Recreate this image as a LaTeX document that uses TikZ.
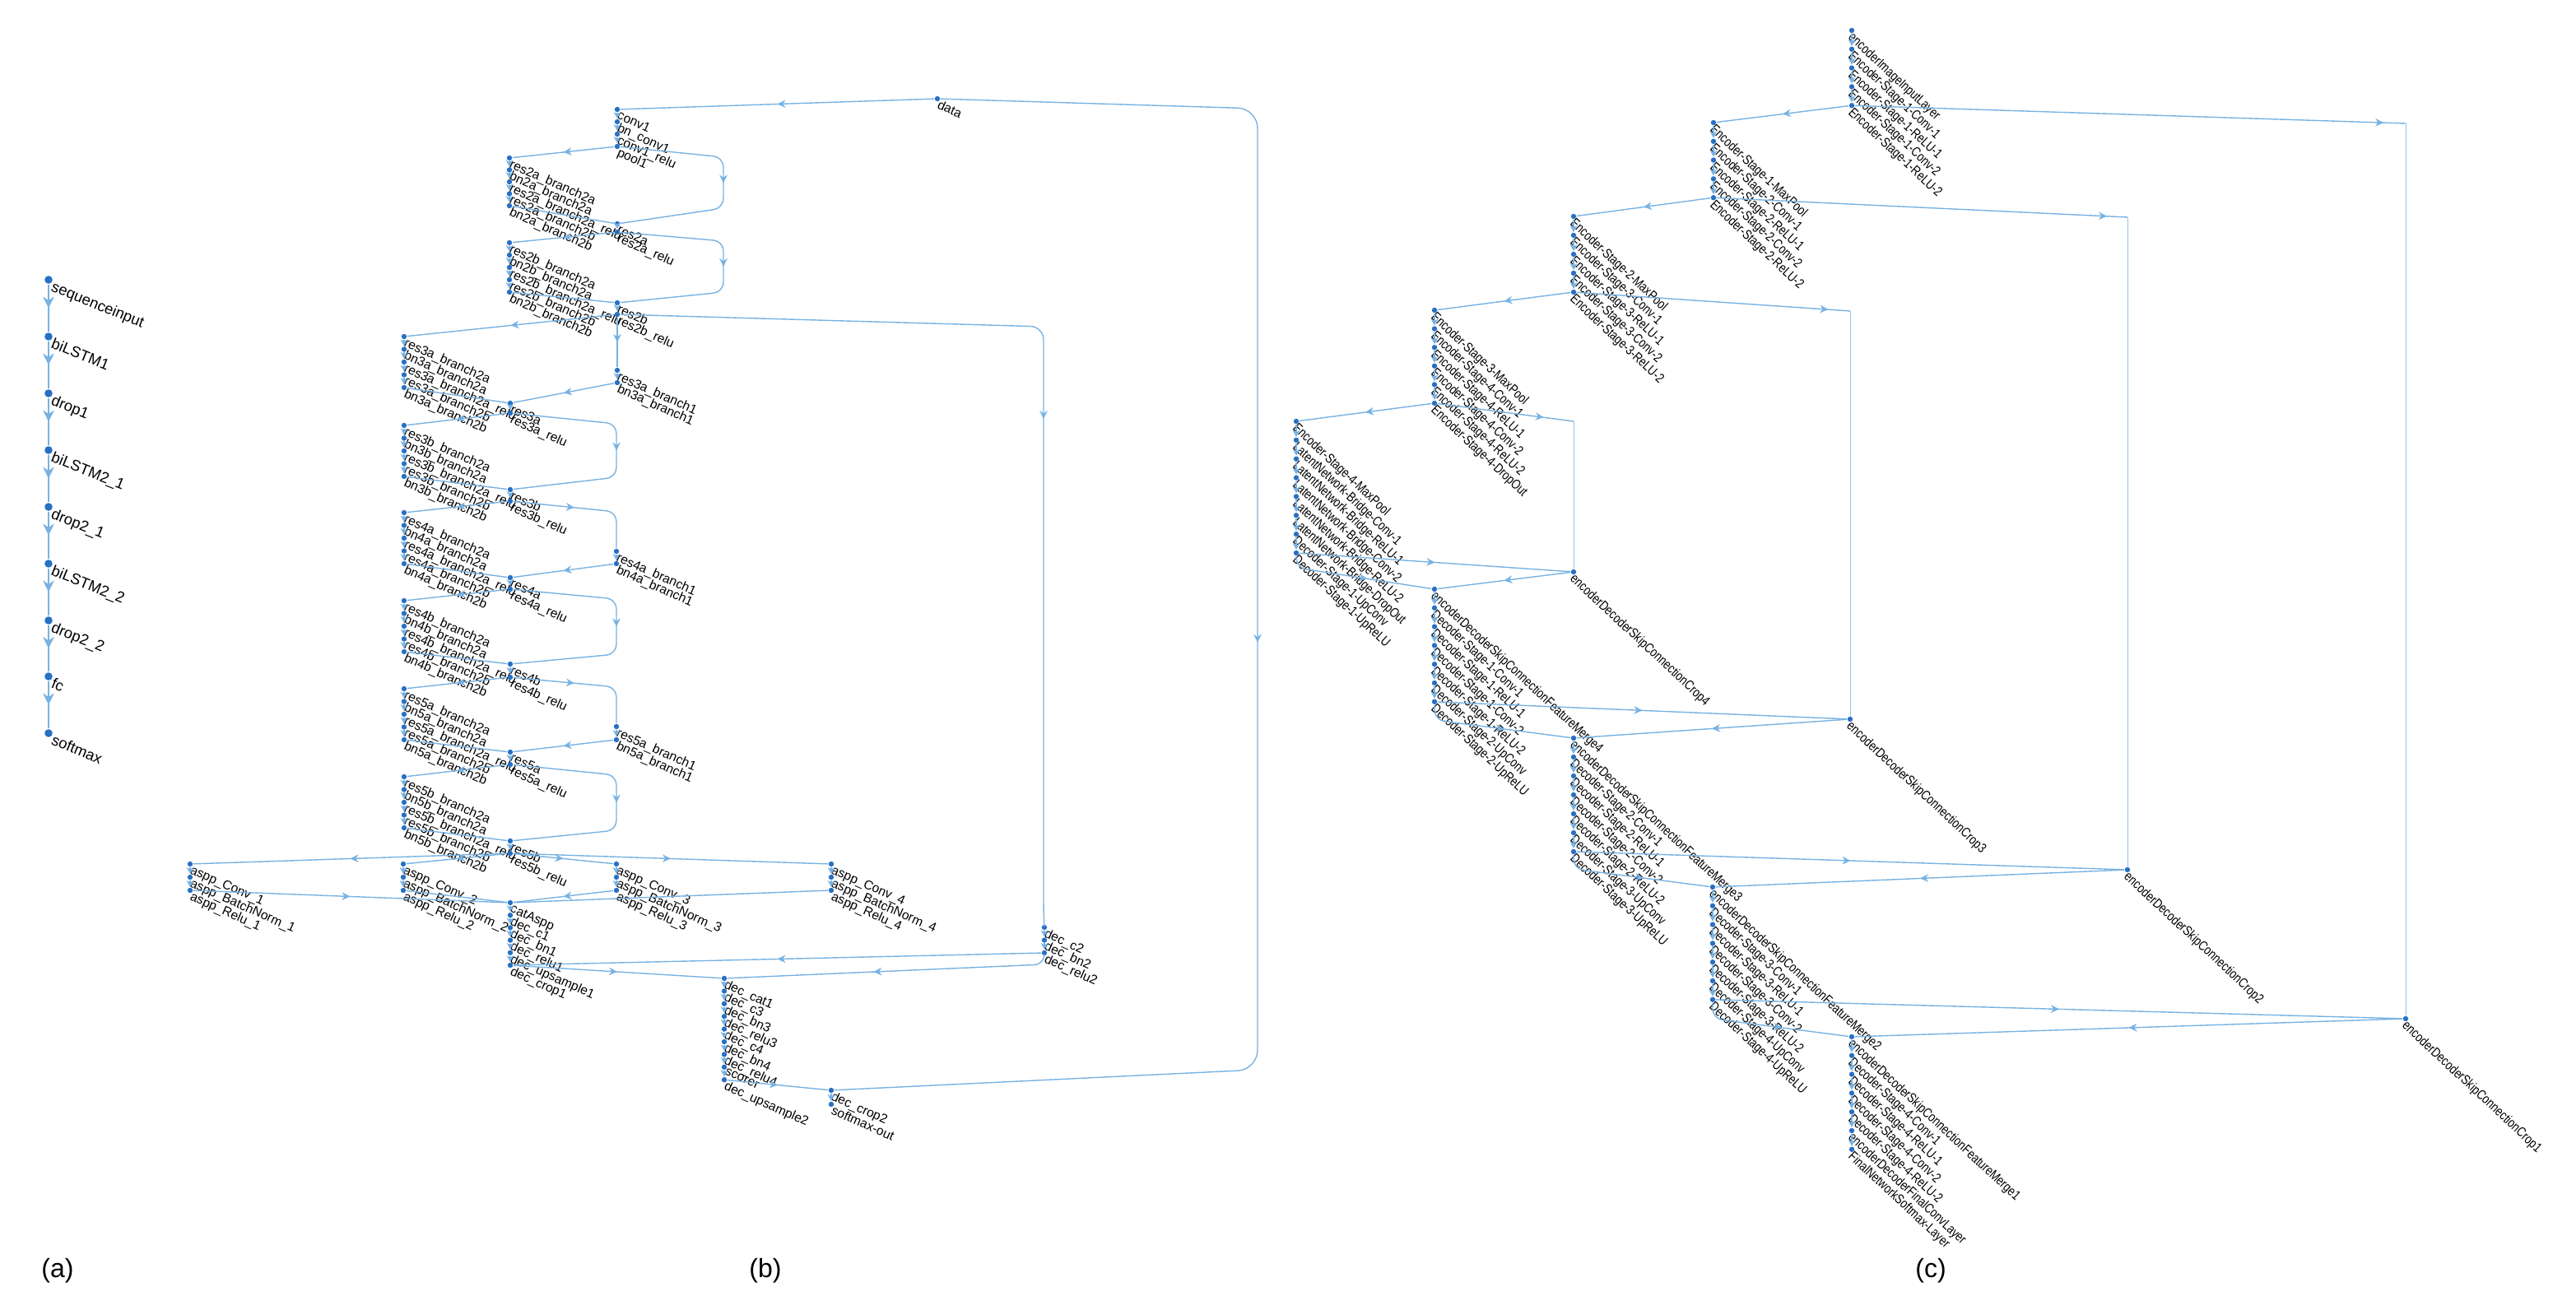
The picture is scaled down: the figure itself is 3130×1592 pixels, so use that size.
\documentclass[tikz,border=0pt]{standalone}
\usepackage{fontspec}
\setmainfont{Liberation Sans}
\newfontfamily\narrowf{Liberation Sans}[FakeStretch=0.8]
\usetikzlibrary{arrows.meta,decorations.markings}
\definecolor{dotc}{RGB}{40,112,196}
\definecolor{edgec}{RGB}{120,178,226}
\tikzset{
 x=0.25pt,y=-0.25pt,
 dot/.style={circle,fill=dotc,inner sep=0,minimum size=1.6pt},
 edge/.style={draw=edgec,line width=0.35pt},
 thinedge/.style={draw=edgec!80,line width=0.2pt},
 chain/.style={edge,-{Stealth[length=2pt,width=2.2pt]}},
 marr/.style={postaction={decorate},decoration={markings,mark=at position #1 with {\arrow[edgec]{Stealth[length=2.5pt,width=2.4pt]}}}},
 marr/.default=0.5,
 marrA/.style={postaction={decorate},decoration={markings,mark=at position 0.5 with {\arrow[edgec]{Stealth[length=3.5pt,width=3.4pt]}}}},
 la/.style={anchor=north west,rotate=-22,inner sep=0,font=\fontsize{4.6}{5}\selectfont},
 lb/.style={anchor=north west,rotate=-24,inner sep=0,font=\fontsize{3.9}{4}\selectfont},
 lc/.style={anchor=north west,rotate=-43,inner sep=0,font=\narrowf\fontsize{4.1}{4.5}\selectfont},
 captxt/.style={font=\fontsize{8}{9}\selectfont},
}
\newcommand\stk[5]{%
 \foreach \nm/\tx [count=\i from 0, remember=\nm as \pv (initially none)] in {#5}{
  \node[dot] (\nm) at (#1,{#2+\i*#3}) {};
  \node[#4] at ([xshift=0.8pt]\nm.center) {\tx};
  \ifnum\i>0 \draw[chain] (\pv) -- (\nm);\fi
 }}
\begin{document}
\begin{tikzpicture}
\useasboundingbox (0,0) rectangle (3130,1592);
% ---------------- (a)
\foreach \nm/\tx/\yy in {aa1/sequenceinput/340, aa2/biLSTM1/409, aa3/drop1/478, aa4/biLSTM2\_1/547, aa5/drop2\_1/616, aa6/biLSTM2\_2/685, aa7/drop2\_2/754, aa8/fc/822, aa9/softmax/891}
 {\node[dot,minimum size=2.4pt] (\nm) at (59,\yy) {};
  \node[la] at ([xshift=1.7pt]\nm.center) {\tx};}
\foreach \p/\q in {aa1/aa2,aa2/aa3,aa3/aa4,aa4/aa5,aa5/aa6,aa6/aa7,aa7/aa8,aa8/aa9}
 \draw[edge,line width=0.55pt,marrA] (\p) -- (\q);
% ---------------- (b)
\node[dot] (data) at (1139,120) {}; \node[lb] at ([xshift=0.8pt]data.center) {data};
\stk{750}{133}{15}{lb}{conv1/conv1, bnconv1/bn\_conv1, conv1relu/conv1\_relu, pool1/pool1}
\stk{619}{192}{14.5}{lb}{r2aA/res2a\_branch2a, r2aB/bn2a\_branch2a, r2aC/res2a\_branch2a\_relu, r2aD/res2a\_branch2b, r2aE/bn2a\_branch2b}
\stk{750}{272}{10}{lb}{res2a/res2a, r2arelu/res2a\_relu}
\stk{619}{295}{15}{lb}{r2bA/res2b\_branch2a, r2bB/bn2b\_branch2a, r2bC/res2b\_branch2a\_relu, r2bD/res2b\_branch2b, r2bE/bn2b\_branch2b}
\stk{750}{368}{14}{lb}{res2b/res2b, r2brelu/res2b\_relu}
\stk{491}{409}{15.5}{lb}{r3aA/res3a\_branch2a, r3aB/bn3a\_branch2a, r3aC/res3a\_branch2a\_relu, r3aD/res3a\_branch2b, r3aE/bn3a\_branch2b}
\stk{750}{450}{15}{lb}{r3b1/res3a\_branch1, r3b1n/bn3a\_branch1}
\stk{620}{490}{12}{lb}{res3a/res3a, r3arelu/res3a\_relu}
\stk{491}{517}{15.5}{lb}{r3bA/res3b\_branch2a, r3bB/bn3b\_branch2a, r3bC/res3b\_branch2a\_relu, r3bD/res3b\_branch2b, r3bE/bn3b\_branch2b}
\stk{620}{595}{14}{lb}{res3b/res3b, r3brelu/res3b\_relu}
\stk{491}{623}{15.5}{lb}{r4aA/res4a\_branch2a, r4aB/bn4a\_branch2a, r4aC/res4a\_branch2a\_relu, r4aD/res4a\_branch2b, r4aE/bn4a\_branch2b}
\stk{749}{670}{15}{lb}{r4b1/res4a\_branch1, r4b1n/bn4a\_branch1}
\stk{620}{702}{14}{lb}{res4a/res4a, r4arelu/res4a\_relu}
\stk{491}{730}{15.5}{lb}{r4bA/res4b\_branch2a, r4bB/bn4b\_branch2a, r4bC/res4b\_branch2a\_relu, r4bD/res4b\_branch2b, r4bE/bn4b\_branch2b}
\stk{620}{807}{16}{lb}{res4b/res4b, r4brelu/res4b\_relu}
\stk{491}{837}{15.5}{lb}{r5aA/res5a\_branch2a, r5aB/bn5a\_branch2a, r5aC/res5a\_branch2a\_relu, r5aD/res5a\_branch2b, r5aE/bn5a\_branch2b}
\stk{749}{883}{16}{lb}{r5b1/res5a\_branch1, r5b1n/bn5a\_branch1}
\stk{620}{914}{15}{lb}{res5a/res5a, r5arelu/res5a\_relu}
\stk{491}{944}{15.5}{lb}{r5bA/res5b\_branch2a, r5bB/bn5b\_branch2a, r5bC/res5b\_branch2a\_relu, r5bD/res5b\_branch2b, r5bE/bn5b\_branch2b}
\stk{620}{1022}{15}{lb}{res5b/res5b, r5brelu/res5b\_relu}
\stk{231}{1050}{16}{lb}{ac1/aspp\_Conv\_1, ab1/aspp\_BatchNorm\_1, ar1/aspp\_Relu\_1}
\stk{490}{1050}{16}{lb}{ac2/aspp\_Conv\_2, ab2/aspp\_BatchNorm\_2, ar2/aspp\_Relu\_2}
\stk{749}{1050}{16}{lb}{ac3/aspp\_Conv\_3, ab3/aspp\_BatchNorm\_3, ar3/aspp\_Relu\_3}
\stk{1010}{1050}{16}{lb}{ac4/aspp\_Conv\_4, ab4/aspp\_BatchNorm\_4, ar4/aspp\_Relu\_4}
\stk{620}{1097}{15.2}{lb}{cat/catAspp, decc1/dec\_c1, decbn1/dec\_bn1, decrelu1/dec\_relu1, decup1/dec\_upsample1, deccrop1/dec\_crop1}
\stk{1269}{1127}{15.5}{lb}{decc2/dec\_c2, decbn2/dec\_bn2, decrelu2/dec\_relu2}
\stk{880}{1189}{15.4}{lb}{deccat1/dec\_cat1, decc3/dec\_c3, decbn3/dec\_bn3, decrelu3/dec\_relu3, decc4/dec\_c4, decbn4/dec\_bn4, decrelu4/dec\_relu4, scorer/scorer, decup2/dec\_upsample2}
\stk{1010}{1325}{17}{lb}{deccrop2/dec\_crop2, smout/softmax-out}
% edges (b)
\draw[edge,marr] (data) -- (conv1);
\draw[edge,rounded corners=6pt,marr] (data) -- (1528,132) -- (1528,1300) -- (deccrop2);
\draw[edge,marr] (pool1) -- (r2aA);
\draw[edge] (r2aE) -- (res2a);
\draw[edge,rounded corners=3pt,marr] (pool1) -- (879,191) -- (879,253) -- (res2a);
\draw[edge,marr] (r2arelu) -- (r2bA);
\draw[edge] (r2bE) -- (res2b);
\draw[edge,rounded corners=3pt,marr] (r2arelu) -- (879,293) -- (879,355) -- (res2b);
\draw[edge,marr] (r2brelu) -- (r3aA);
\draw[edge,marr] (r2brelu) -- (r3b1);
\draw[edge,rounded corners=4pt,marr=0.5] (r2brelu) -- (1268,397) -- (1268,1110) -- (decc2);
\draw[edge] (r3aE) -- (res3a);
\draw[edge,marr] (r3b1n) -- (res3a);
\draw[edge,marr] (r3arelu) -- (r3bA);
\draw[edge,rounded corners=3pt,marr] (r3arelu) -- (749,515) -- (749,580) -- (res3b);
\draw[edge] (r3bE) -- (res3b);
\draw[edge,marr] (r3brelu) -- (r4aA);
\draw[edge,rounded corners=3pt,marr=0.45] (r3brelu) -- (749,622) -- (r4b1);
\draw[edge] (r4aE) -- (res4a);
\draw[edge,marr] (r4b1n) -- (res4a);
\draw[edge,marr] (r4arelu) -- (r4bA);
\draw[edge,rounded corners=3pt,marr] (r4arelu) -- (749,728) -- (749,795) -- (res4b);
\draw[edge] (r4bE) -- (res4b);
\draw[edge,marr] (r4brelu) -- (r5aA);
\draw[edge,rounded corners=3pt,marr=0.45] (r4brelu) -- (749,835) -- (r5b1);
\draw[edge] (r5aE) -- (res5a);
\draw[edge,marr] (r5b1n) -- (res5a);
\draw[edge,marr] (r5arelu) -- (r5bA);
\draw[edge,rounded corners=3pt,marr] (r5arelu) -- (749,942) -- (749,1009) -- (res5b);
\draw[edge] (r5bE) -- (res5b);
\foreach \t in {ac1,ac2,ac3,ac4} \draw[edge,marr] (r5brelu) -- (\t);
\draw[edge,marr] (ar1) -- (cat);
\draw[edge] (ar2) -- (cat);
\draw[edge,marr] (ar3) -- (cat);
\draw[edge] (ar4) -- (cat);
\draw[edge,marr] (decrelu2) -- (deccrop1);
\draw[edge,rounded corners=3pt,marr=0.55] (decrelu2) -- (1269,1172) -- (deccat1);
\draw[edge,marr] (deccrop1) -- (deccat1);
\draw[edge,marr] (decup2) -- (deccrop2);
% ---------------- (c)
\stk{2250}{37}{22.8}{lc}{e1/encoderImageInputLayer, e2/Encoder-Stage-1-Conv-1, e3/Encoder-Stage-1-ReLU-1, e4/Encoder-Stage-1-Conv-2, e5/Encoder-Stage-1-ReLU-2}
\stk{2082}{149}{22.8}{lc}{f1/Encoder-Stage-1-MaxPool, f2/Encoder-Stage-2-Conv-1, f3/Encoder-Stage-2-ReLU-1, f4/Encoder-Stage-2-Conv-2, f5/Encoder-Stage-2-ReLU-2}
\stk{1912}{263}{23}{lc}{g1/Encoder-Stage-2-MaxPool, g2/Encoder-Stage-3-Conv-1, g3/Encoder-Stage-3-ReLU-1, g4/Encoder-Stage-3-Conv-2, g5/Encoder-Stage-3-ReLU-2}
\stk{1743}{377}{22.6}{lc}{h1/Encoder-Stage-3-MaxPool, h2/Encoder-Stage-4-Conv-1, h3/Encoder-Stage-4-ReLU-1, h4/Encoder-Stage-4-Conv-2, h5/Encoder-Stage-4-ReLU-2, h6/Encoder-Stage-4-DropOut}
\stk{1575}{512}{22.86}{lc}{i1/Encoder-Stage-4-MaxPool, i2/LatentNetwork-Bridge-Conv-1, i3/LatentNetwork-Bridge-ReLU-1, i4/LatentNetwork-Bridge-Conv-2, i5/LatentNetwork-Bridge-ReLU-2, i6/LatentNetwork-Bridge-DropOut, i7/Decoder-Stage-1-UpConv, i8/Decoder-Stage-1-UpReLU}
\node[dot] (c4) at (1912,695) {}; \node[lc] at ([xshift=0.8pt]c4.center) {encoderDecoderSkipConnectionCrop4};
\node[dot] (c3) at (2248,874) {}; \node[lc] at ([xshift=0.8pt]c3.center) {encoderDecoderSkipConnectionCrop3};
\node[dot] (c2) at (2585,1057) {}; \node[lc] at ([xshift=0.8pt]c2.center) {encoderDecoderSkipConnectionCrop2};
\node[dot] (c1) at (2923,1238) {}; \node[lc] at ([xshift=0.8pt]c1.center) {encoderDecoderSkipConnectionCrop1};
\stk{1743}{716}{22.8}{lc}{j1/encoderDecoderSkipConnectionFeatureMerge4, j2/Decoder-Stage-1-Conv-1, j3/Decoder-Stage-1-ReLU-1, j4/Decoder-Stage-1-Conv-2, j5/Decoder-Stage-1-ReLU-2, j6/Decoder-Stage-2-UpConv, j7/Decoder-Stage-2-UpReLU}
\stk{1912}{897}{23}{lc}{k1/encoderDecoderSkipConnectionFeatureMerge3, k2/Decoder-Stage-2-Conv-1, k3/Decoder-Stage-2-ReLU-1, k4/Decoder-Stage-2-Conv-2, k5/Decoder-Stage-2-ReLU-2, k6/Decoder-Stage-3-UpConv, k7/Decoder-Stage-3-UpReLU}
\stk{2081}{1078}{22.8}{lc}{l1/encoderDecoderSkipConnectionFeatureMerge2, l2/Decoder-Stage-3-Conv-1, l3/Decoder-Stage-3-ReLU-1, l4/Decoder-Stage-3-Conv-2, l5/Decoder-Stage-3-ReLU-2, l6/Decoder-Stage-4-UpConv, l7/Decoder-Stage-4-UpReLU}
\stk{2250}{1260}{22.8}{lc}{m1/encoderDecoderSkipConnectionFeatureMerge1, m2/Decoder-Stage-4-Conv-1, m3/Decoder-Stage-4-ReLU-1, m4/Decoder-Stage-4-Conv-2, m5/Decoder-Stage-4-ReLU-2, m6/encoderDecoderFinalConvLayer, m7/FinalNetworkSoftmax-Layer}
% edges (c)
\draw[edge,marr] (e5) -- (f1);
\draw[edge,marr] (f5) -- (g1);
\draw[edge,marr] (g5) -- (h1);
\draw[edge,marr] (h6) -- (i1);
\coordinate (q1) at (2923,150); \coordinate (q2) at (2585,264);
\coordinate (q3) at (2248,378); \coordinate (q4) at (1912,512);
\draw[edge,marr=0.96] (e5) -- (q1); \draw[thinedge] (q1) -- (c1);
\draw[edge,marr=0.95] (f5) -- (q2); \draw[thinedge] (q2) -- (c2);
\draw[edge,marr=0.92] (g5) -- (q3); \draw[thinedge] (q3) -- (c3);
\draw[edge,marr=0.78] (h6) -- (q4); \draw[thinedge] (q4) -- (c4);
\draw[edge,marr] (i8) -- (c4);
\draw[edge,rounded corners=3pt,marr=0.55] (i8) -- (1575,690) -- (j1);
\draw[edge,marr] (c4) -- (j1);
\draw[edge,marr] (j7) -- (c3);
\draw[edge,rounded corners=3pt,marr=0.55] (j7) -- (1743,875) -- (k1);
\draw[edge,marr] (c3) -- (k1);
\draw[edge,marr] (k7) -- (c2);
\draw[edge,rounded corners=3pt,marr=0.55] (k7) -- (1912,1056) -- (l1);
\draw[edge,marr] (c2) -- (l1);
\draw[edge,marr] (l7) -- (c1);
\draw[edge,rounded corners=3pt,marr=0.55] (l7) -- (2081,1238) -- (m1);
\draw[edge,marr] (c1) -- (m1);
% captions
\node[captxt] (capa) at (70,1544) {(a)};
\node[captxt] (capb) at (930,1544) {(b)};
\node[captxt] (capc) at (2346,1544) {(c)};
\end{tikzpicture}
\end{document}
